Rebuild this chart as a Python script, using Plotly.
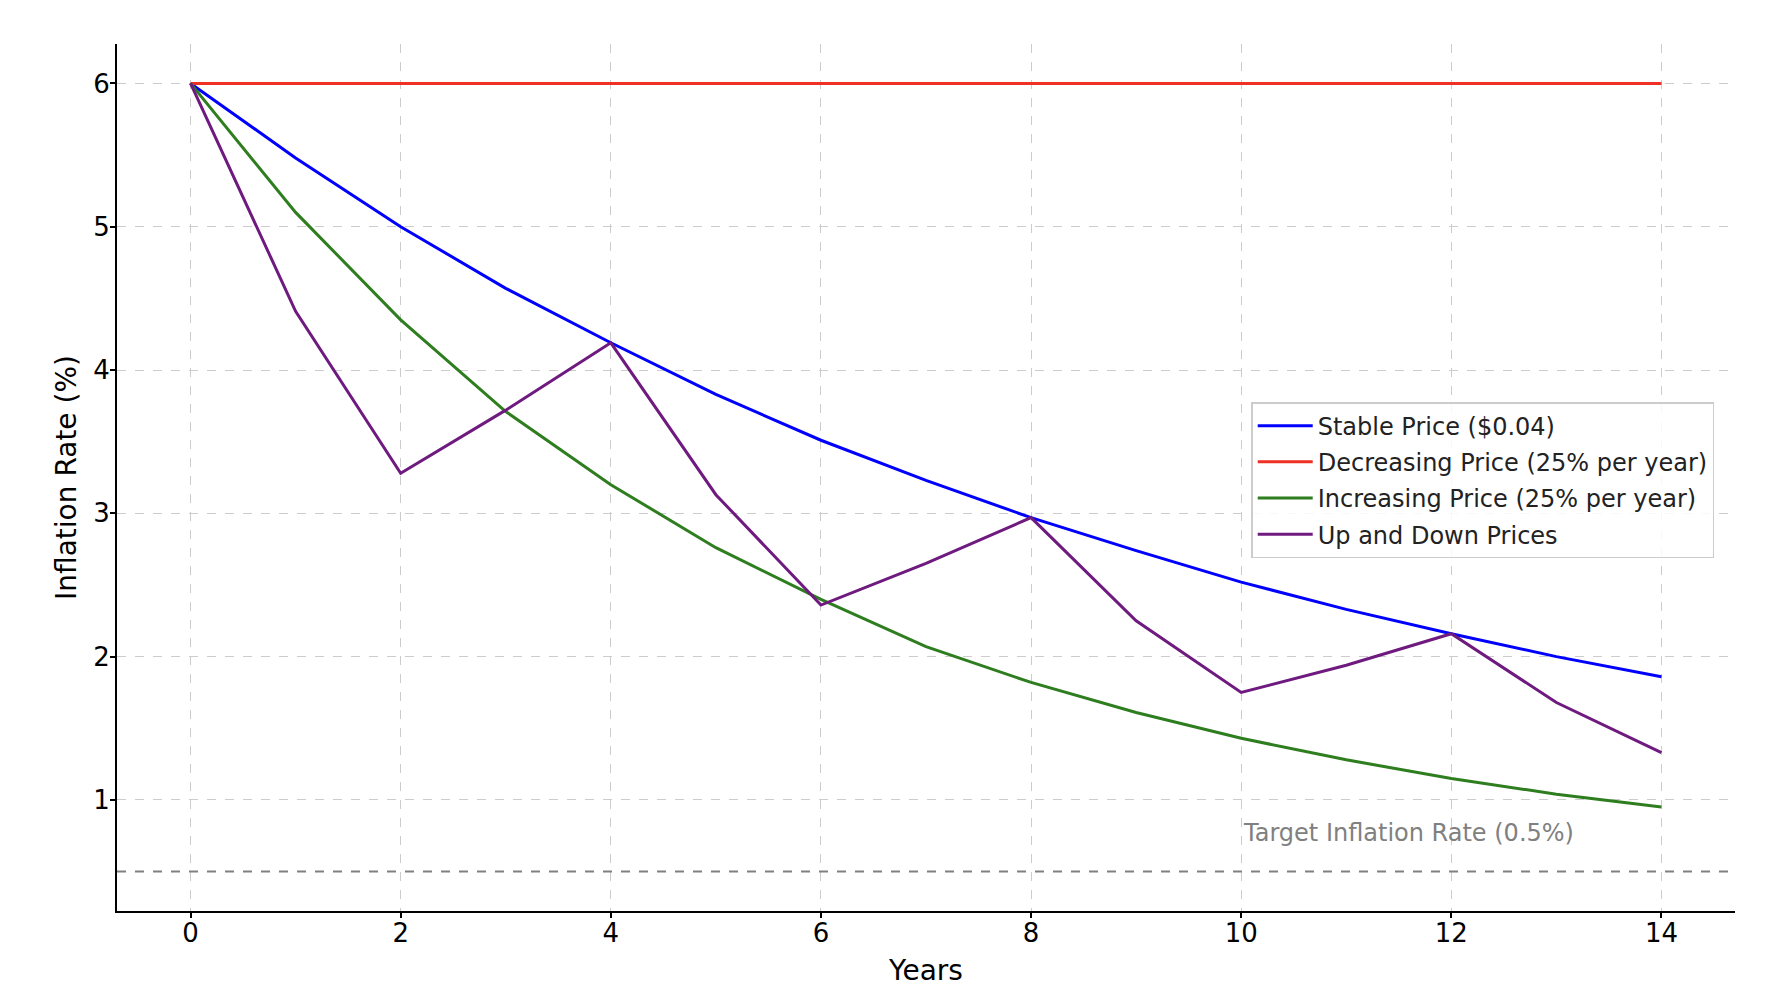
import plotly.graph_objects as go

# Data
years = list(range(15))
stable = [6.0, 5.48, 5.0, 4.57, 4.19, 3.83, 3.51, 3.23, 2.97, 2.74, 2.52, 2.33, 2.16, 2.0, 1.86]
decreasing = [6.0] * 15
increasing = [6.0, 5.10, 4.35, 3.71, 3.20, 2.76, 2.40, 2.07, 1.82, 1.61, 1.43, 1.28, 1.15, 1.04, 0.95]
up_down = [6.0, 4.41, 3.28, 3.72, 4.19, 3.13, 2.36, 2.65, 2.97, 2.25, 1.75, 1.94, 2.16, 1.68, 1.33]
target = 0.5

series = [
    ("Stable Price ($0.04)", stable, "#0000ff"),
    ("Decreasing Price (25% per year)", decreasing, "#ee3124"),
    ("Increasing Price (25% per year)", increasing, "#2e7d1f"),
    ("Up and Down Prices", up_down, "#6f1a7f"),
]

FONT = "DejaVu Sans"

fig = go.Figure()
for i, (name, vals, color) in enumerate(series):
    fig.add_trace(go.Scatter(x=years, y=vals, mode="lines", name=name,
                             legendgroup=f"g{i}",
                             line=dict(color=color, width=3)))

# target line across the whole plot
fig.add_shape(type="line", xref="paper", x0=0, x1=1, yref="y", y0=target, y1=target,
              line=dict(color="#808080", width=2, dash="dash"))
fig.add_annotation(x=10, y=target + 0.27, text="Target Inflation Rate (0.5%)",
                   showarrow=False, xanchor="left", yanchor="middle",
                   font=dict(family=FONT, size=24, color="#808080"))

axis_common = dict(
    showline=True, linecolor="black", linewidth=2,
    ticks="outside", ticklen=5, tickwidth=1.5, tickcolor="black",
    showgrid=True, gridcolor="#cccccc", griddash="dash", gridwidth=1,
    zeroline=False, mirror=False,
    tickfont=dict(family=FONT, size=26, color="black"),
)

fig.update_xaxes(range=[-0.7, 14.7], tickvals=[0, 2, 4, 6, 8, 10, 12, 14],
                 ticklabelstandoff=-7,
                 title=dict(text="Years", font=dict(family=FONT, size=28, color="black"), standoff=13),
                 **axis_common)
fig.update_yaxes(range=[0.225, 6.275], tickvals=[1, 2, 3, 4, 5, 6],
                 ticklabelstandoff=-5,
                 title=dict(text="Inflation Rate (%)", font=dict(family=FONT, size=28, color="black"), standoff=8),
                 **axis_common)

fig.update_layout(
    width=1790, height=1002,
    margin=dict(l=109, r=63, t=36, b=99),
    plot_bgcolor="white", paper_bgcolor="white",
    font=dict(family=FONT, color="#222222"),
    legend=dict(x=0.701, y=0.587, xanchor="left", yanchor="top",
                bgcolor="rgba(255,255,255,0.85)", bordercolor="#cccccc", borderwidth=1.5,
                font=dict(family=FONT, size=24, color="#222222"),
                tracegroupgap=2, itemwidth=55),
)

fig.write_html("out.html")
